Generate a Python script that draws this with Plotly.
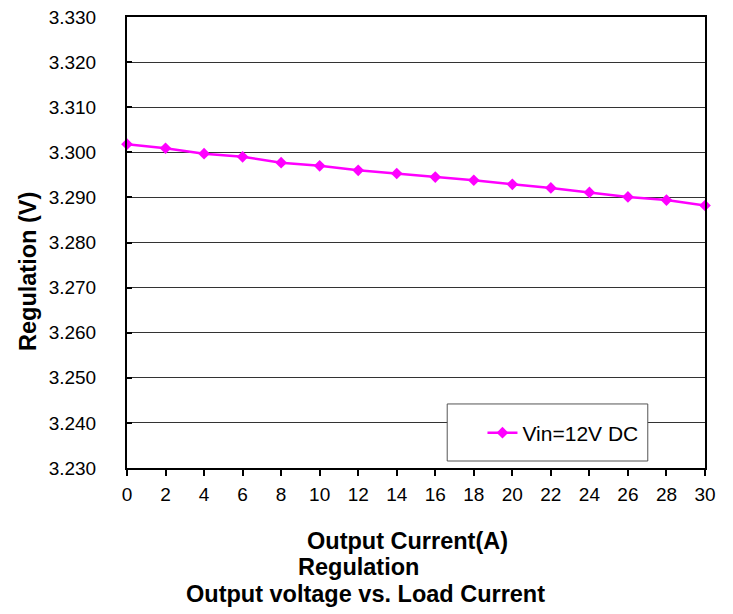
import plotly.graph_objects as go

current = [0, 2, 4, 6, 8, 10, 12, 14, 16, 18, 20, 22, 24, 26, 28, 30]
voltage = [3.3018, 3.3009, 3.2997, 3.2990, 3.2977, 3.2970, 3.2960, 3.2953,
           3.2945, 3.2938, 3.2929, 3.2921, 3.2911, 3.2901, 3.2894, 3.2882]
series_name = 'Vin=12V DC'
y_ticks = [3.23, 3.24, 3.25, 3.26, 3.27, 3.28, 3.29, 3.30, 3.31, 3.32, 3.33]

FONT = 'Liberation Sans, Arial, sans-serif'
MAGENTA = '#FF00FF'

fig = go.Figure(go.Scatter(
    x=current, y=voltage,
    mode='lines+markers',
    name=series_name,
    line=dict(color=MAGENTA, width=2.5),
    marker=dict(symbol='diamond', size=9, color=MAGENTA),
    cliponaxis=False,
))

# page body has an 8px margin, so the figure is a bit smaller than the window
fig.update_layout(
    width=725, height=606,
    margin=dict(l=119, r=28, t=9, b=146),
    paper_bgcolor='white',
    plot_bgcolor='white',
    font=dict(family=FONT, size=19, color='black'),
    showlegend=True,
    legend=dict(
        x=0.615, y=0.0776, xanchor='left', yanchor='middle',
        bgcolor='rgba(0,0,0,0)', borderwidth=0,
        font=dict(size=21),
    ),
    shapes=[dict(
        type='rect', xref='paper', yref='paper',
        x0=0.554, x1=0.901, y0=0.0155, y1=0.142,
        fillcolor='white', line=dict(color='#555555', width=1),
        layer='above',
    )],
    annotations=[
        dict(text='<b>Regulation (V)</b>', xref='paper', yref='paper',
             x=-0.1713, y=0.4368, textangle=-90, showarrow=False,
             font=dict(size=23.5), xanchor='center', yanchor='middle'),
        dict(text='<b>Output Current(A)</b>', xref='paper', yref='paper',
             x=0.485, y=-0.162, showarrow=False,
             font=dict(size=23.5), xanchor='center', yanchor='middle'),
        dict(text='<b>Regulation</b>', xref='paper', yref='paper',
             x=0.4005, y=-0.2195, showarrow=False,
             font=dict(size=23.5), xanchor='center', yanchor='middle'),
        dict(text='<b>Output voltage vs. Load Current</b>', xref='paper', yref='paper',
             x=0.412, y=-0.279, showarrow=False,
             font=dict(size=23.5), xanchor='center', yanchor='middle'),
    ],
)

fig.update_xaxes(
    range=[0, 30], tickvals=current, ticktext=[str(c) for c in current],
    tickfont=dict(family=FONT, size=19, color='black'),
    showgrid=False, zeroline=False, automargin=False,
    showline=True, linecolor='black', linewidth=2, mirror=True,
    ticks='outside', ticklen=6, tickwidth=2, tickcolor='black',
    ticklabelstandoff=2, ticklabeloverflow='allow',
)
fig.update_yaxes(
    range=[3.23, 3.33], tickvals=y_ticks, tickformat='.3f',
    tickfont=dict(family=FONT, size=19, color='black'),
    showgrid=True, gridcolor='#333333', gridwidth=1, zeroline=False,
    automargin=False,
    showline=True, linecolor='black', linewidth=2, mirror=True,
    ticks='inside', ticklen=5, tickwidth=2, tickcolor='black',
    ticklabelstandoff=25, ticklabeloverflow='allow',
)

fig.write_html('out.html')
